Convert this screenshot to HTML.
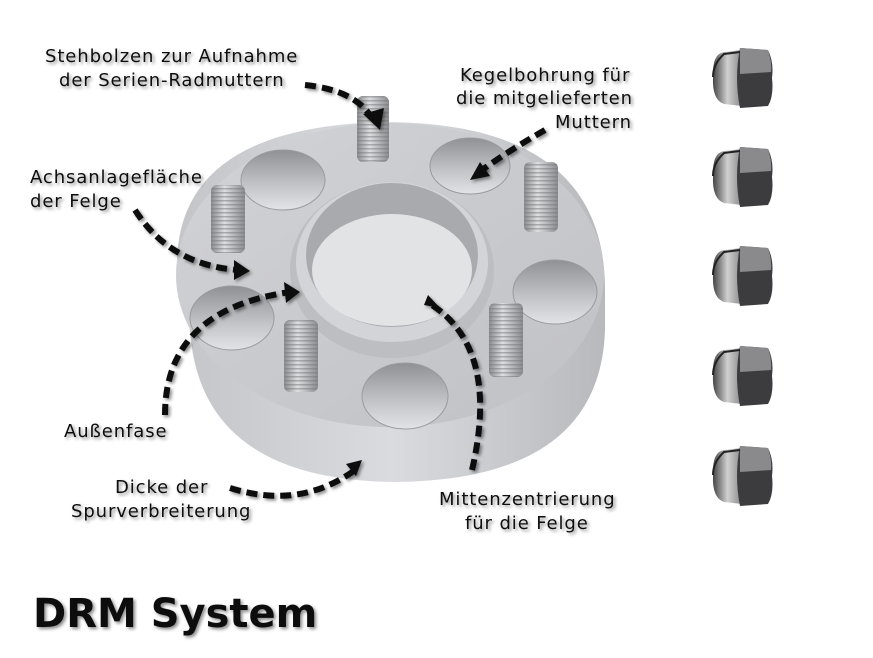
<!DOCTYPE html>
<html><head><meta charset="utf-8"><style>
body{margin:0;background:#fff;}
svg{display:block;}
text{font-family:"DejaVu Sans","Liberation Sans",sans-serif;font-size:18px;letter-spacing:0.9px;fill:#111;}
</style></head><body>
<svg width="873" height="658" viewBox="0 0 873 658">
<defs>
<linearGradient id="side" x1="0" x2="1" y1="0" y2="0">
<stop offset="0" stop-color="#c4c5c9"/><stop offset="0.5" stop-color="#dadbdf"/><stop offset="1" stop-color="#b8b9bd"/></linearGradient>
<linearGradient id="top" x1="0" x2="1" y1="0" y2="1">
<stop offset="0" stop-color="#d2d3d6"/><stop offset="1" stop-color="#c0c1c5"/></linearGradient>
<linearGradient id="hole" x1="0" x2="0" y1="0" y2="1">
<stop offset="0" stop-color="#909195"/><stop offset="0.6" stop-color="#c4c5c8"/><stop offset="1" stop-color="#e2e3e6"/></linearGradient>
<linearGradient id="stud" x1="0" x2="1">
<stop offset="0" stop-color="#8a8b8f"/><stop offset="0.4" stop-color="#dddee1"/><stop offset="1" stop-color="#8a8b8f"/></linearGradient>
<pattern id="thread" width="8" height="4" patternUnits="userSpaceOnUse"><rect width="8" height="1.5" fill="#777" opacity="0.5"/></pattern>
<linearGradient id="nutl" x1="0" x2="1">
<stop offset="0" stop-color="#444"/><stop offset="0.5" stop-color="#d0d0d0"/><stop offset="1" stop-color="#888"/></linearGradient>
<filter id="sh"><feDropShadow dx="2" dy="2" stdDeviation="1.5" flood-color="#000" flood-opacity="0.45"/></filter>
<g id="nut">
<path d="M14 8 Q2 10 3 33 Q2 56 14 60 L32 62 L32 6 Z" fill="url(#nutl)"/>
<path d="M30 4 L58 6 Q64 18 62 34 Q64 52 58 62 L30 64 Q24 34 30 4 Z" fill="#3c3c3e"/>
<path d="M30 4 L58 6 Q62 18 61 28 L30 30 Z" fill="#8a8a8d"/>
<path d="M3 33 Q3 20 14 10 L30 8" fill="none" stroke="#222" stroke-width="2"/>
</g>
</defs>

<path d="M177 265 Q177 125 390 122 Q605 125 605 290 L605 330 Q600 480 395 482 Q200 480 190 330 Z" fill="url(#side)"/>
<ellipse cx="390" cy="275" rx="214" ry="152" fill="url(#top)"/>

<ellipse cx="283" cy="180" rx="42" ry="30" fill="url(#hole)" stroke="#9a9b9f"/>
<ellipse cx="470" cy="166" rx="40" ry="28" fill="url(#hole)" stroke="#9a9b9f"/>
<ellipse cx="555" cy="292" rx="42" ry="32" fill="url(#hole)" stroke="#9a9b9f"/>
<ellipse cx="232" cy="318" rx="42" ry="32" fill="url(#hole)" stroke="#9a9b9f"/>
<ellipse cx="405" cy="396" rx="43" ry="33" fill="url(#hole)" stroke="#9a9b9f"/>

<ellipse cx="392" cy="270" rx="102" ry="88" fill="#bdbec2"/>
<ellipse cx="392" cy="262" rx="96" ry="80" fill="#d3d4d7"/>
<ellipse cx="392" cy="255" rx="86" ry="72" fill="#a9aaae"/>
<ellipse cx="392" cy="270" rx="80" ry="56" fill="#e2e3e5"/>

<g>
<rect x="357" y="96" width="32" height="66" rx="6" fill="url(#stud)"/>
<rect x="211" y="185" width="34" height="68" rx="6" fill="url(#stud)"/>
<rect x="524" y="162" width="34" height="70" rx="6" fill="url(#stud)"/>
<rect x="284" y="320" width="34" height="72" rx="6" fill="url(#stud)"/>
<rect x="489" y="303" width="34" height="74" rx="6" fill="url(#stud)"/>
<rect x="357" y="96" width="32" height="66" rx="6" fill="url(#thread)"/>
<rect x="211" y="185" width="34" height="68" rx="6" fill="url(#thread)"/>
<rect x="524" y="162" width="34" height="70" rx="6" fill="url(#thread)"/>
<rect x="284" y="320" width="34" height="72" rx="6" fill="url(#thread)"/>
<rect x="489" y="303" width="34" height="74" rx="6" fill="url(#thread)"/>
</g>

<use href="#nut" x="710" y="44"/>
<use href="#nut" x="710" y="143"/>
<use href="#nut" x="710" y="242"/>
<use href="#nut" x="710" y="342"/>
<use href="#nut" x="710" y="442"/>

<g fill="none" stroke="#111" stroke-width="6" stroke-dasharray="11 6" filter="url(#sh)">
<path d="M305 85 Q355 90 372 118"/>
<path d="M545 130 Q510 150 482 170"/>
<path d="M135 210 Q170 265 238 270"/>
<path d="M165 415 Q165 310 290 292"/>
<path d="M230 488 Q300 510 355 470"/>
<path d="M472 470 Q500 350 432 305"/>
</g>
<g fill="#111" filter="url(#sh)">
<path d="M363 114 L380 130 L384 108 Z"/>
<path d="M470 180 L490 176 L480 162 Z"/>
<path d="M234 260 L250 271 L234 280 Z"/>
<path d="M284 282 L300 292 L286 303 Z"/>
<path d="M346 464 L362 460 L356 476 Z"/>
<path d="M424 305 L428 295 L440 308 Z"/>
</g>

<g filter="url(#sh)">
<text x="45" y="62">Stehbolzen zur Aufnahme</text>
<text x="59" y="86">der Serien-Radmuttern</text>
<text x="460" y="81">Kegelbohrung für</text>
<text x="456" y="104">die mitgelieferten</text>
<text x="555" y="128">Muttern</text>
<text x="30" y="183">Achsanlagefläche</text>
<text x="30" y="207">der Felge</text>
<text x="64" y="437">Außenfase</text>
<text x="115" y="493">Dicke der</text>
<text x="71" y="517">Spurverbreiterung</text>
<text x="439" y="505">Mittenzentrierung</text>
<text x="465" y="529">für die Felge</text>
<text x="33" y="627" style="font-size:40px;letter-spacing:0px;font-weight:bold;font-family:'DejaVu Sans',sans-serif">DRM System</text>
</g>
</svg>
</body></html>
